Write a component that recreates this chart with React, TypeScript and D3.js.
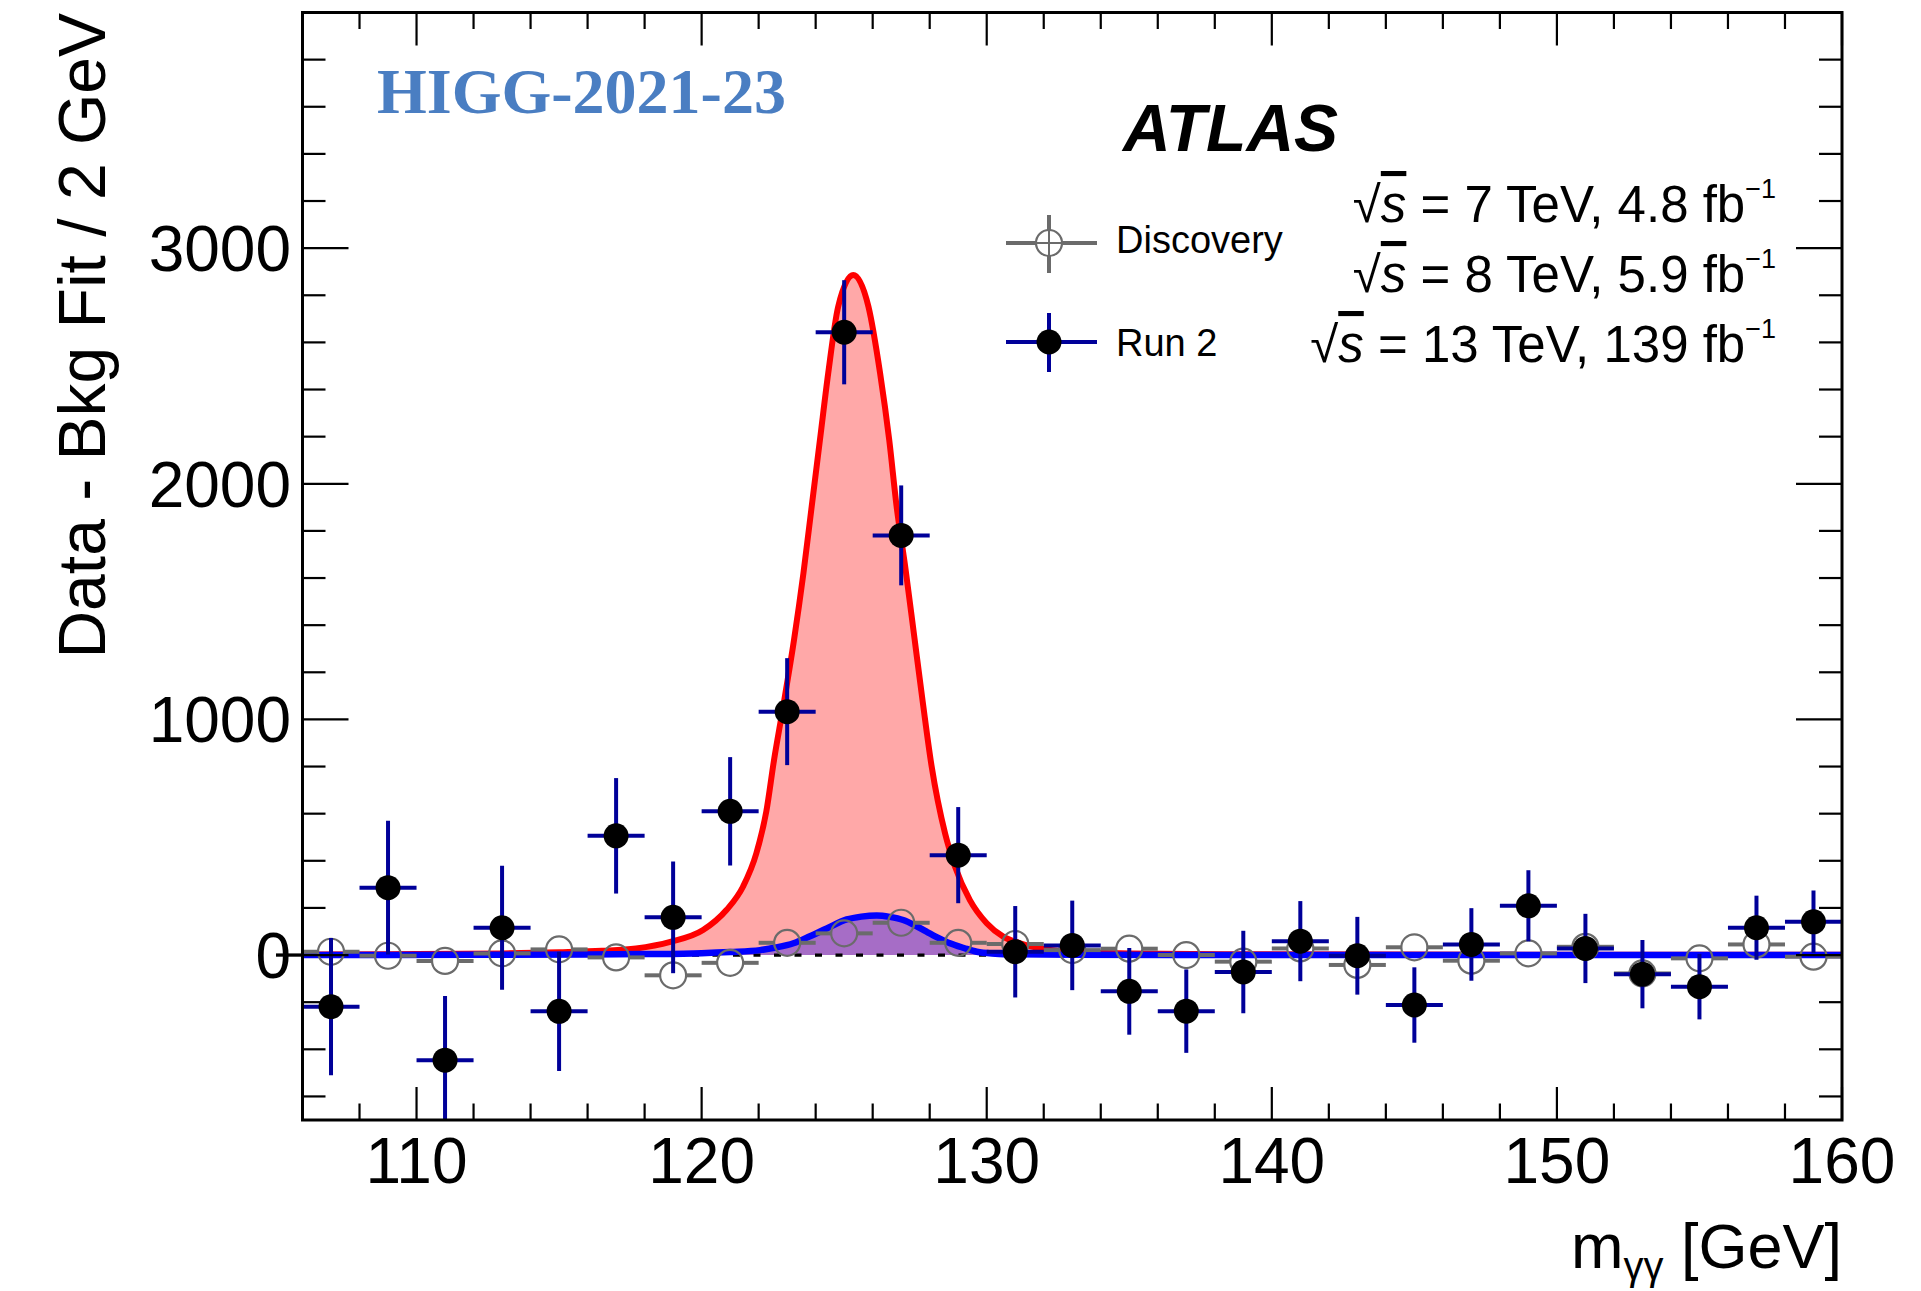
import React from "react";
import * as d3 from "d3";

// Bin centres (2 GeV bins) for both data sets
const massBins = [107, 109, 111, 113, 115, 117, 119, 121, 123, 125, 127, 129, 131, 133, 135, 137, 139, 141, 143, 145, 147, 149, 151, 153, 155, 157, 159];

// Run 2: data minus background fit, with statistical errors
const run2Values = [-219, 286, -446, 116, -239, 506, 160, 610, 1033, 2643, 1781, 424, 14, 41, -154, -238, -72, 59, -3, -212, 45, 209, 28, -81, -134, 116, 141];
const run2Errors = [291, 284, 272, 263, 253, 245, 237, 230, 227, 221, 212, 204, 194, 190, 184, 177, 175, 170, 165, 160, 154, 151, 147, 145, 139, 136, 133];

// Discovery (7 + 8 TeV): data minus background fit
const discoveryValues = [14, -3, -25, 7, 24, -10, -86, -33, 52, 92, 137, 52, 47, 21, 27, 0, -28, 28, -42, 33, -24, 7, 35, -78, -14, 45, -7];

// Run 2 signal fit curve samples
const run2FitMass = [106, 110, 113, 115, 116.5, 117.7, 118.9, 120.05, 120.87, 121.45, 121.92, 122.27, 122.54, 122.86, 123.24, 123.57, 123.86, 124.15, 124.44, 124.79, 125.32, 125.85, 126.26, 126.58, 126.84, 127.15, 127.46, 127.76, 128.07, 128.54, 128.89, 129.41, 130.0, 130.58, 131.17, 131.87, 133, 135, 140, 150, 160];
const run2FitValues = [2, 4, 7, 12, 18, 28, 56, 106, 191, 290, 432, 610, 828, 1054, 1337, 1620, 1903, 2186, 2469, 2752, 2886, 2752, 2469, 2186, 1903, 1640, 1350, 1070, 799, 516, 375, 233, 135, 78, 50, 28, 14, 7, 3, 1, 1];

// Discovery signal fit curve samples
const discoveryFitMass = [106, 112, 116, 118, 120, 121, 122.05, 122.6, 123.22, 123.8, 124.39, 125.09, 125.6, 126.14, 126.6, 127.07, 127.5, 127.89, 128.3, 128.71, 129.2, 129.65, 130.3, 131, 133, 140, 160];
const discoveryFitValues = [0.5, 1, 2, 4, 8, 13, 21, 32, 50, 80, 113, 151, 163, 168, 162, 149, 125, 99, 73, 50, 30, 14, 6, 3, 1, 0.5, 0.5];

const xMajorTicks = [110, 120, 130, 140, 150, 160];
const yMajorTicks = [0, 1000, 2000, 3000];
const energyLines = [
  { energy: "7 TeV", lumi: "4.8 fb" },
  { energy: "8 TeV", lumi: "5.9 fb" },
  { energy: "13 TeV", lumi: "139 fb" },
];

const BIN_WIDTH = 2;
const SANS = "'Liberation Sans', Arial, Helvetica, sans-serif";
const SERIF = "'Liberation Serif', 'Times New Roman', serif";
const NAVY = "#000099";
const GREY = "#6b6b6b";

export default function App() {
  const W = 1921;
  const H = 1291;
  const left = 302.5;
  const right = 1842;
  const top = 12.5;
  const bottom = 1120;

  const x = d3.scaleLinear().domain([106, 160]).range([left, right]);
  const y = d3.scaleLinear().domain([-700, 4000]).range([bottom, top]);

  const xMinor = d3.range(108, 160, 2).filter((v) => !xMajorTicks.includes(v));
  const yMinor = d3.range(-600, 4000, 200).filter((v) => !yMajorTicks.includes(v));

  const run2Fit = run2FitMass.map((m, i) => [m, run2FitValues[i]] as [number, number]);
  const discFit = discoveryFitMass.map((m, i) => [m, discoveryFitValues[i]] as [number, number]);

  const area = d3
    .area<[number, number]>()
    .x((d) => x(d[0]))
    .y0(y(0))
    .y1((d) => y(d[1]))
    .curve(d3.curveMonotoneX);
  const line = d3
    .line<[number, number]>()
    .x((d) => x(d[0]))
    .y((d) => y(d[1]))
    .curve(d3.curveMonotoneX);

  const rBlack = 12.5;
  const rGrey = 13;
  const xLen = 33; // x-axis tick length
  const yLen = 46; // y-axis tick length

  return (
    <svg
      width={W}
      height={H}
      viewBox={`0 0 ${W} ${H}`}
      style={{ position: "absolute", left: 0, top: 0, background: "#fff" }}
    >
      <defs>
        <clipPath id="plotArea">
          <rect x={left} y={top} width={right - left} height={bottom - top} />
        </clipPath>
      </defs>
      <rect x={0} y={0} width={W} height={H} fill="#fff" />

      <g clipPath="url(#plotArea)">
        {/* signal fit fills */}
        <path d={area(run2Fit) || ""} fill="#ff0000" fillOpacity={0.34} />
        <path d={area(discFit) || ""} fill="#0000ff" fillOpacity={0.35} />
        {/* zero line */}
        <line x1={x(106)} x2={x(160)} y1={y(0)} y2={y(0)} stroke="#000" strokeWidth={3.3} strokeDasharray="7 13.5" />
        {/* fit curves */}
        <path d={line(run2Fit) || ""} fill="none" stroke="#ff0000" strokeWidth={6} />
        <path d={line(discFit) || ""} fill="none" stroke="#0000ff" strokeWidth={6.5} />

        {/* Discovery points: open grey circles with bin-width bars */}
        {massBins.map((m, i) => {
          const cx = x(m);
          const cy = y(discoveryValues[i]);
          return (
            <g key={`d${m}`}>
              <line x1={x(m - BIN_WIDTH / 2)} x2={cx - rGrey} y1={cy} y2={cy} stroke={GREY} strokeWidth={4} />
              <line x1={cx + rGrey} x2={x(m + BIN_WIDTH / 2)} y1={cy} y2={cy} stroke={GREY} strokeWidth={4} />
              <circle cx={cx} cy={cy} r={rGrey} fill="none" stroke={GREY} strokeWidth={2.2} />
            </g>
          );
        })}

        {/* Run 2 points: error bars and filled markers */}
        {massBins.map((m, i) => {
          const cx = x(m);
          const v = run2Values[i];
          const e = run2Errors[i];
          return (
            <g key={`r${m}`}>
              <line x1={cx} x2={cx} y1={y(v + e)} y2={y(v - e)} stroke={NAVY} strokeWidth={4} />
              <line x1={x(m - BIN_WIDTH / 2)} x2={x(m + BIN_WIDTH / 2)} y1={y(v)} y2={y(v)} stroke={NAVY} strokeWidth={4} />
            </g>
          );
        })}
        {massBins.map((m, i) => (
          <circle key={`rm${m}`} cx={x(m)} cy={y(run2Values[i])} r={rBlack} fill="#000" />
        ))}
      </g>

      {/* short zero marker left of the axis */}
      <line x1={276} x2={left} y1={y(0)} y2={y(0)} stroke="#000" strokeWidth={3.3} />

      {/* ticks */}
      <g stroke="#000" strokeWidth={2.2}>
        {xMajorTicks.map((t) => (
          <g key={`xt${t}`}>
            <line x1={x(t)} x2={x(t)} y1={bottom} y2={bottom - xLen} />
            <line x1={x(t)} x2={x(t)} y1={top} y2={top + xLen} />
          </g>
        ))}
        {xMinor.map((t) => (
          <g key={`xm${t}`}>
            <line x1={x(t)} x2={x(t)} y1={bottom} y2={bottom - xLen / 2} />
            <line x1={x(t)} x2={x(t)} y1={top} y2={top + xLen / 2} />
          </g>
        ))}
        {yMajorTicks.map((t) => (
          <g key={`yt${t}`}>
            <line x1={left} x2={left + yLen} y1={y(t)} y2={y(t)} />
            <line x1={right} x2={right - yLen} y1={y(t)} y2={y(t)} />
          </g>
        ))}
        {yMinor.map((t) => (
          <g key={`ym${t}`}>
            <line x1={left} x2={left + yLen / 2} y1={y(t)} y2={y(t)} />
            <line x1={right} x2={right - yLen / 2} y1={y(t)} y2={y(t)} />
          </g>
        ))}
      </g>

      {/* frame */}
      <rect x={left} y={top} width={right - left} height={bottom - top} fill="none" stroke="#000" strokeWidth={3} />

      {/* tick labels */}
      <g fontFamily={SANS} fontSize={64} fill="#000">
        {xMajorTicks.map((t) => (
          <text key={`xl${t}`} x={x(t)} y={1183} textAnchor="middle">
            {t}
          </text>
        ))}
        {yMajorTicks.map((t) => (
          <text key={`yl${t}`} x={291} y={y(t) + 23} textAnchor="end">
            {t}
          </text>
        ))}
      </g>

      {/* axis titles */}
      <text
        transform="translate(105,13) rotate(-90)"
        textAnchor="end"
        fontFamily={SANS}
        fontSize={66}
        fill="#000"
      >
        Data - Bkg Fit / 2 GeV
      </text>
      <text x={right} y={1268} textAnchor="end" fontFamily={SANS} fontSize={63} fill="#000">
        m
        <tspan dy={12} fontSize={40}>
          γγ
        </tspan>
        <tspan dy={-12}> [GeV]</tspan>
      </text>

      {/* labels */}
      <text x={377} y={113} fontFamily={SERIF} fontWeight="bold" fontSize={64} fill="#4a7ec2">
        HIGG-2021-23
      </text>
      <text x={1123} y={151} fontFamily={SANS} fontWeight="bold" fontStyle="italic" fontSize={66} fill="#000">
        ATLAS
      </text>
      {energyLines.map((l, i) => (
        <text key={l.energy} x={1776} y={222 + i * 70} textAnchor="end" fontFamily={SANS} fontSize={51} fill="#000">
          <tspan>√</tspan>
          <tspan fontStyle="italic" style={{ textDecoration: "overline" }}>
            s
          </tspan>
          <tspan>{` = ${l.energy}, ${l.lumi}`}</tspan>
          <tspan dy={-24} fontSize={27}>
            −1
          </tspan>
        </text>
      ))}

      {/* legend */}
      <g>
        <line x1={1006} x2={1097} y1={243} y2={243} stroke={GREY} strokeWidth={4} />
        <line x1={1049} x2={1049} y1={215} y2={273} stroke={GREY} strokeWidth={4} />
        <circle cx={1049} cy={243} r={rGrey} fill="#fff" stroke={GREY} strokeWidth={2.2} />
        <line x1={1049 - rGrey + 1} x2={1049 + rGrey - 1} y1={243} y2={243} stroke={GREY} strokeWidth={2} />
        <line x1={1049} x2={1049} y1={243 - rGrey + 1} y2={243 + rGrey - 1} stroke={GREY} strokeWidth={2} />
        <text x={1116} y={253} fontFamily={SANS} fontSize={38} fill="#000">
          Discovery
        </text>

        <line x1={1006} x2={1097} y1={342} y2={342} stroke={NAVY} strokeWidth={4} />
        <line x1={1049} x2={1049} y1={313} y2={372} stroke={NAVY} strokeWidth={4} />
        <circle cx={1049} cy={342} r={rBlack} fill="#000" />
        <text x={1116} y={356} fontFamily={SANS} fontSize={38} fill="#000">
          Run 2
        </text>
      </g>
    </svg>
  );
}
